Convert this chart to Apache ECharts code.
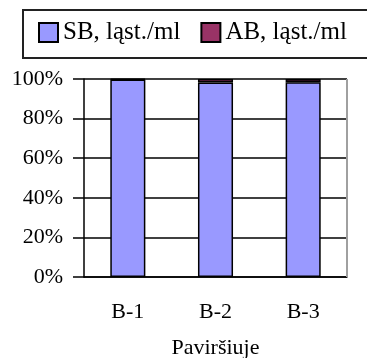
<!DOCTYPE html>
<html>
<head>
<meta charset="utf-8">
<script src="https://cdn.jsdelivr.net/npm/echarts@6/dist/echarts.min.js"></script>
<style>
  html, body { margin: 0; padding: 0; background: #fff; }
  #chart { width: 367px; height: 358px; }
</style>
</head>
<body>
<div id="chart"></div>
<script>
// Sampling sites and the share of each bacteria group (percent of total)
const categories = ['B-1', 'B-2', 'B-3'];
const sbShare = [99.7, 98.2, 98.3];
const abShare = [0.3, 1.8, 1.7];
const seriesNames = ['SB, ląst./ml', 'AB, ląst./ml'];
const yTicks = [0, 20, 40, 60, 80, 100];
const xAxisName = 'Paviršiuje';

const FONT = 'Liberation Serif';
const chart = echarts.init(document.getElementById('chart'));

chart.setOption({
  animation: false,
  textStyle: { fontFamily: FONT, color: '#000' },
  grid: { left: 84, right: 20, top: 79, bottom: 81, show: false,
          containLabel: false, outerBoundsMode: 'none' },
  graphic: [
    // legend frame running off the right edge
    { type: 'rect', shape: { x: 23, y: 10, width: 400, height: 48 },
      style: { fill: 'none', stroke: '#222', lineWidth: 2 }, z: 10 },
    // light plot-area edge on the right
    { type: 'line', shape: { x1: 347, y1: 79, x2: 347, y2: 277 },
      style: { stroke: '#a0a0a0', lineWidth: 2 }, z: 1 }
  ],
  legend: {
    left: 33, top: 15,
    itemWidth: 19, itemHeight: 19, itemGap: 20,
    icon: 'rect',
    textStyle: { fontFamily: FONT, fontSize: 25, color: '#000' },
    data: seriesNames
  },
  xAxis: {
    type: 'category',
    data: categories,
    axisLine: { lineStyle: { color: '#000', width: 1.5 } },
    axisTick: { alignWithLabel: true, length: 12, lineStyle: { color: '#000', width: 1.5 } },
    axisLabel: { fontFamily: FONT, fontSize: 22, color: '#000', margin: 24 },
    name: xAxisName,
    nameLocation: 'middle',
    nameGap: 60,
    nameTextStyle: { fontFamily: FONT, fontSize: 22, color: '#000' }
  },
  yAxis: {
    type: 'value',
    min: yTicks[0], max: yTicks[yTicks.length - 1], interval: 20,
    axisLine: { show: true, lineStyle: { color: '#000', width: 1.5 } },
    axisTick: { show: true, length: 11, lineStyle: { color: '#000', width: 1.5 } },
    axisLabel: { fontFamily: FONT, fontSize: 22, color: '#000', margin: 21,
      formatter: v => v + '%' },
    splitLine: { show: true, lineStyle: { color: '#000', width: 1.5 } }
  },
  series: [
    { name: seriesNames[0], type: 'bar', stack: 'all', data: sbShare,
      barWidth: '40%',
      itemStyle: { color: '#9999ff', borderColor: '#000', borderWidth: 1.5 } },
    { name: seriesNames[1], type: 'bar', stack: 'all', data: abShare,
      barWidth: '40%',
      itemStyle: { color: '#993366', borderColor: '#000', borderWidth: 1.5 } }
  ]
});
</script>
</body>
</html>
